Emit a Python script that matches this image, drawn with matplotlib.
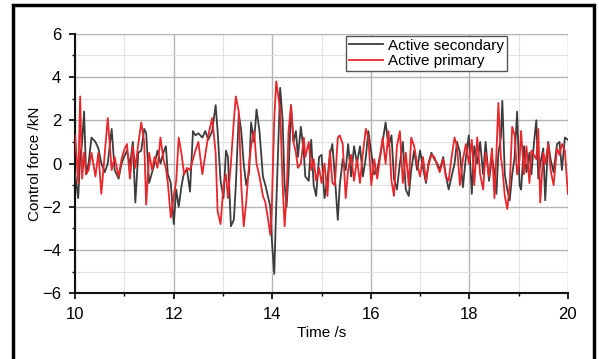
import matplotlib
matplotlib.use("Agg")
import matplotlib.pyplot as plt
from matplotlib.ticker import MultipleLocator
from matplotlib.patches import Rectangle

plt.rcParams['font.family'] = ['Liberation Sans', 'DejaVu Sans']

time_s = [10.00, 10.06, 10.10, 10.14, 10.18, 10.22, 10.27, 10.33, 10.41, 10.47, 10.53, 10.60, 10.66, 10.74, 10.80,
          10.88, 10.94, 10.99, 11.05, 11.11, 11.17, 11.22, 11.28, 11.34, 11.40, 11.44, 11.50, 11.56, 11.61, 11.67,
          11.73, 11.79, 11.84, 11.88, 11.94, 12.00, 12.05, 12.10, 12.16, 12.21, 12.27, 12.33, 12.39, 12.44, 12.50,
          12.58, 12.64, 12.70, 12.78, 12.85, 12.89, 12.95, 13.01, 13.06, 13.10, 13.16, 13.22, 13.26, 13.32, 13.37,
          13.42, 13.47, 13.53, 13.57, 13.63, 13.68, 13.74, 13.81, 13.86, 13.91, 13.96, 13.99, 14.04, 14.08, 14.16,
          14.21, 14.25, 14.29, 14.33, 14.38, 14.43, 14.48, 14.52, 14.58, 14.64, 14.67, 14.74, 14.79, 14.84, 14.89,
          14.95, 15.00, 15.06, 15.12, 15.17, 15.22, 15.27, 15.33, 15.37, 15.43, 15.49, 15.54, 15.60, 15.66, 15.72,
          15.78, 15.84, 15.90, 15.95, 16.01, 16.07, 16.13, 16.19, 16.24, 16.30, 16.36, 16.42, 16.47, 16.53, 16.59,
          16.65, 16.71, 16.77, 16.82, 16.88, 16.94, 17.00, 17.06, 17.12, 17.17, 17.23, 17.29, 17.35, 17.40, 17.47,
          17.52, 17.58, 17.64, 17.70, 17.75, 17.81, 17.87, 17.93, 17.99, 18.05, 18.10, 18.16, 18.22, 18.28, 18.33,
          18.40, 18.46, 18.51, 18.55, 18.59, 18.64, 18.67, 18.72, 18.77, 18.82, 18.87, 18.92, 18.97, 19.02, 19.05,
          19.11, 19.16, 19.22, 19.26, 19.31, 19.36, 19.40, 19.44, 19.50, 19.54, 19.60, 19.65, 19.71, 19.78, 19.83,
          19.88, 19.94, 20.00]

active_secondary = [-0.5, -1.6, 0.3, 1.0, 2.4, -0.5, 0.0, 1.2, 1.0, 0.7, 0.0, -0.4, 0.0, 1.6, -0.3,
                    -0.7, 0.0, 0.3, 0.6, -0.1, 1.0, -1.8, 0.5, 0.6, 1.6, 1.4, -0.9, -0.4, 0.0, 0.6,
                    0.0, 0.5, 0.8, -0.5, -0.9, -2.8, -1.2, -2.0, -1.0, -0.4, -0.3, -1.3, 1.5, 1.3, 1.4,
                    1.2, 1.5, 1.1, 1.5, 2.7, 1.5, -0.8, -1.6, 0.6, 0.3, -2.9, -2.6, -1.0, 2.3, 1.5,
                    0.0, -1.0, -0.4, 1.9, 1.0, 2.5, 1.5, -0.6, -1.0, -1.5, -2.0, -3.5, -5.1, -2.0, 3.5,
                    2.0, -1.0, -2.0, -0.5, 2.7, 1.0, 1.5, 0.3, 1.7, 0.5, -0.6, -0.8, 1.1, -1.0, -1.5,
                    0.3, 0.4, -1.6, -0.7, 0.4, 0.9, -0.6, -2.6, -1.0, 0.2, -0.3, 0.9, -0.6, 0.8, 0.0,
                    0.8, -0.6, 0.3, 1.5, 0.5, -0.5, -0.3, 0.4, 1.0, 1.9, 0.8, 1.3, -0.7, -1.2, 0.0,
                    1.0, -1.2, -1.5, -0.3, 0.6, -0.3, 0.6, -0.2, -0.9, 0.0, 0.5, 0.2, 0.0, -0.3, 0.3,
                    -0.5, -1.2, -0.6, 0.0, 1.0, 0.5, -1.1, 0.3, 1.3, -1.4, 0.8, 0.0, 1.0, -0.5, 1.0,
                    -0.8, 0.3, -0.4, -1.4, 0.5, 1.2, 2.9, -0.5, -1.2, -1.7, -0.5, 0.3, 2.4, -1.0, -1.2,
                    0.8, -0.4, 0.5, -0.5, 0.9, 2.0, -0.7, 0.0, 0.7, -1.7, 1.0, 0.2, -0.4, 0.9, 1.0,
                    -0.3, 1.2, 1.1]

active_primary = [1.3, -0.9, 3.1, -0.7, 0.5, -0.5, -0.3, 0.5, -0.6, 0.5, -1.4, 0.5, 2.1, -0.3, 0.3,
                  -0.6, 0.2, 0.6, 0.9, -0.7, 0.8, -0.2, 0.9, 1.9, 1.0, -1.9, 0.5, -0.3, 0.3, -0.2,
                  1.2, 0.2, -0.2, -0.9, -2.5, -1.5, -0.8, 1.2, 0.4, -0.5, -0.2, -0.3, 0.2, 0.6, 1.0,
                  -0.5, 0.4, 1.3, 2.1, 0.5, -2.2, -2.8, -1.0, -0.5, -1.6, 0.0, 2.0, 3.1, 2.4, -1.0,
                  -2.9, -1.8, 0.0, 0.8, 1.5, 0.0, -0.6, -1.5, -1.8, -2.5, -3.3, -2.0, 2.0, 3.8, 2.5,
                  -1.0, -2.9, -1.5, 1.5, 2.7, 1.0, 0.5, -0.2, 0.0, 1.2, 0.3, 1.0, -0.3, 0.2, -0.8,
                  -0.2, -0.9, 0.0, -1.5, 0.6, -0.9, -1.0, 1.2, 1.3, 0.9, -1.6, -0.3, 0.4, -0.8, 0.2,
                  -0.9, 0.5, 1.6, 1.2, -1.0, 0.2, -0.7, 0.3, 1.2, 0.0, 1.5, -0.8, -1.5, 0.8, 1.5,
                  -0.9, 0.5, -1.0, 1.2, 0.8, 0.0, -0.6, 0.3, -0.8, -0.1, 0.4, 0.3, -0.1, -0.4, 0.2,
                  -0.6, -0.8, 0.3, 1.2, 0.8, -1.0, 0.2, 0.9, 0.0, 1.1, -1.0, 1.2, -0.5, -1.2, 0.5,
                  -0.6, 0.7, -1.6, 0.5, 2.8, 0.3, -0.2, -1.5, -2.1, -1.0, 1.7, 1.3, -0.5, 0.2, 1.5,
                  -0.5, 0.8, -0.9, 0.6, 0.4, 0.2, 1.6, -1.8, 0.5, 0.0, 0.9, -0.3, -1.0, 0.7, 0.4,
                  0.9, 0.6, -1.4]

series_labels = ["Active secondary", "Active primary"]
x_label = "Time /s"
y_label = "Control force /kN"

fig = plt.figure(figsize=(5.99, 3.59), dpi=100)
ax = fig.add_axes([0.1256, 0.183, 0.8224, 0.723])

# outer frame of the figure
fig.patches.append(Rectangle((13 / 599, -0.05), (594 - 13) / 599, 1 - 5 / 359 + 0.05,
                             transform=fig.transFigure, fill=False, edgecolor='black',
                             linewidth=2.5, zorder=0))

ax.plot(time_s, active_secondary, color='#3c3c3c', linewidth=1.3, label=series_labels[0], zorder=3)
ax.plot(time_s, active_primary, color='#e8262b', linewidth=1.3, label=series_labels[1], zorder=3)

ax.set_xlim(10, 20)
ax.set_ylim(-6, 6)
ax.xaxis.set_major_locator(MultipleLocator(2))
ax.xaxis.set_minor_locator(MultipleLocator(1))
ax.yaxis.set_major_locator(MultipleLocator(2))
ax.yaxis.set_minor_locator(MultipleLocator(1))

ax.grid(True, which='major', color='#b4b4b4', linewidth=1.0, zorder=0)
ax.grid(True, which='minor', color='#e2e2e2', linewidth=0.8, zorder=0)
ax.set_axisbelow(True)

for s in ['top', 'right']:
    ax.spines[s].set_visible(False)
for s in ['left', 'bottom']:
    ax.spines[s].set_linewidth(1.5)
    ax.spines[s].set_color('#111111')

ax.tick_params(which='major', direction='out', length=4, width=1.2, labelsize=12)
ax.tick_params(axis='x', which='major', pad=6)
ax.tick_params(axis='y', which='major', pad=6)
ax.tick_params(which='minor', direction='out', length=2.5, width=1.0)

ax.set_xlabel(x_label, fontsize=11, labelpad=3)
ax.set_ylabel(y_label, fontsize=11, labelpad=0)

leg = ax.legend(loc='upper left', bbox_to_anchor=(0.55, 0.993), borderaxespad=0,
                fontsize=11, frameon=True, fancybox=False, handlelength=2.2,
                handletextpad=0.35, labelspacing=0.1, borderpad=0.2)
leg.get_frame().set_edgecolor('#555555')
leg.get_frame().set_linewidth(1.0)
leg.get_frame().set_alpha(1)

fig.savefig("out.png", dpi=100)
